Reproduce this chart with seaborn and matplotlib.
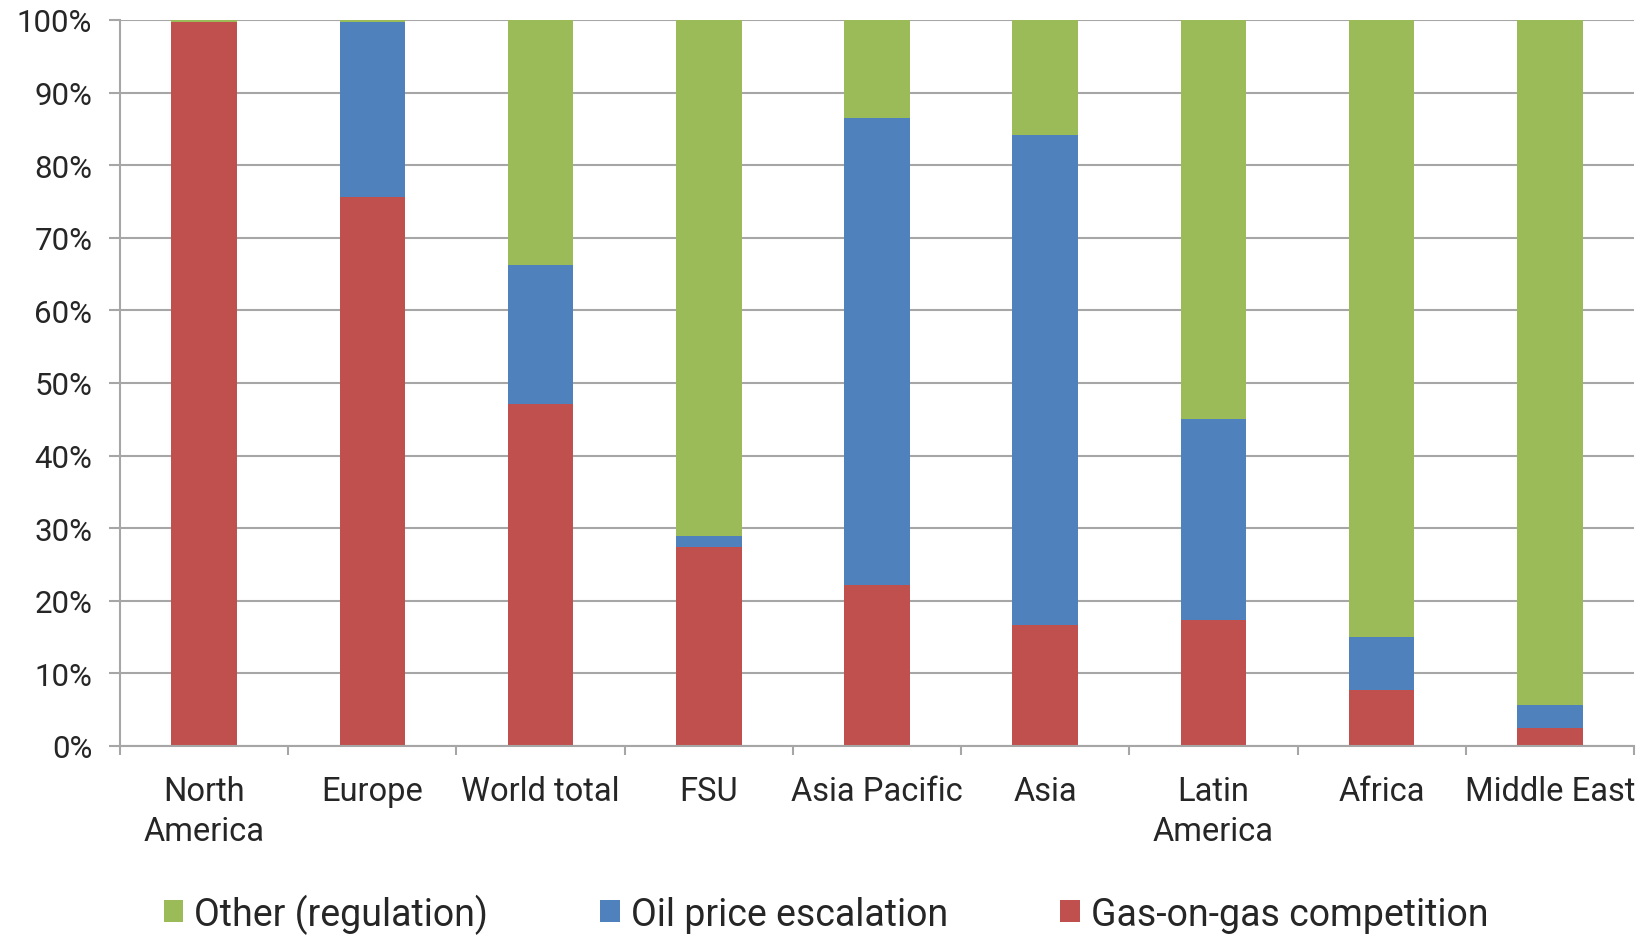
import matplotlib
matplotlib.use("Agg")
import matplotlib.pyplot as plt
from matplotlib.patches import Patch
from matplotlib.ticker import FixedLocator, PercentFormatter
import seaborn as sns
import pandas as pd
import numpy as np

# Shares of gas price formation mechanism by region (%)
regions = ["North\nAmerica", "Europe", "World total", "FSU", "Asia Pacific",
           "Asia", "Latin\nAmerica", "Africa", "Middle East"]
gas_on_gas = [99.7, 75.6, 47.1, 27.4, 22.2, 16.7, 17.4, 7.7, 2.5]
oil_price = [0.0, 24.1, 19.1, 1.5, 64.3, 67.4, 27.6, 7.3, 3.1]
other_reg = [0.3, 0.3, 33.8, 71.1, 13.5, 15.9, 55.0, 85.0, 94.4]

series_names = ["Other (regulation)", "Oil price escalation", "Gas-on-gas competition"]
series_colors = ["#9BBB59", "#4F81BD", "#C0504D"]

df = pd.DataFrame({
    "region": regions,
    "gas": gas_on_gas,
    "oil": oil_price,
    "other": other_reg,
})
# Cumulative heights for stacking: each layer is drawn over the taller one
df["top_gas"] = df["gas"]
df["top_oil"] = df["gas"] + df["oil"]
df["top_other"] = df["top_oil"] + df["other"]

sns.set_theme(style="white")
plt.rcParams["font.family"] = ["Roboto", "DejaVu Sans"]

fig = plt.figure(figsize=(16.42, 9.37), dpi=100)
ax = fig.add_axes([0.0731, 0.2028, 0.9220, 0.7748])

grid_col = "#A6A6A6"
text_col = "#262626"
ax.set_axisbelow(True)
ax.yaxis.grid(True, color=grid_col, linewidth=1.5)

bar_w = 0.39
for col, color in zip(["top_other", "top_oil", "top_gas"], series_colors):
    sns.barplot(data=df, x="region", y=col, color=color, width=bar_w,
                saturation=1, ax=ax, linewidth=0, order=regions)

ax.set_xlim(-0.5, len(regions) - 0.5)
ax.set_ylim(0, 100)
ax.set_xlabel("")
ax.set_ylabel("")

ax.yaxis.set_major_locator(FixedLocator(np.arange(0, 101, 10)))
ax.yaxis.set_major_formatter(PercentFormatter(decimals=0))

# category boundary tick marks on the x axis, labels centred on the bars
ax.set_xticks(np.arange(len(regions)))
ax.set_xticklabels(regions, linespacing=1.3)
ax.set_xticks(np.arange(-0.5, len(regions), 1.0), minor=True)
ax.tick_params(axis="x", which="major", length=0, pad=21, labelsize=23.5,
               labelcolor=text_col)
ax.tick_params(axis="x", which="minor", length=6.5, width=1.5, color=grid_col,
               direction="out", bottom=True)
ax.tick_params(axis="y", which="major", length=8, width=1.5, color=grid_col,
               direction="out", left=True, pad=12, labelsize=22.5,
               labelcolor=text_col)

for side in ["top", "right"]:
    ax.spines[side].set_visible(False)
for side in ["left", "bottom"]:
    ax.spines[side].set_color(grid_col)
    ax.spines[side].set_linewidth(1.5)

handles = [Patch(facecolor=c, edgecolor="none", label=n)
           for n, c in zip(series_names, series_colors)]
fig.legend(handles=handles, loc="center", bbox_to_anchor=(0.503, 0.024),
           ncol=3, frameon=False, fontsize=27, handlelength=0.53,
           handleheight=0.53, handletextpad=0.28, columnspacing=3.0,
           labelcolor=text_col, borderpad=0.1)

fig.savefig("out.png", dpi=100, facecolor="white")
